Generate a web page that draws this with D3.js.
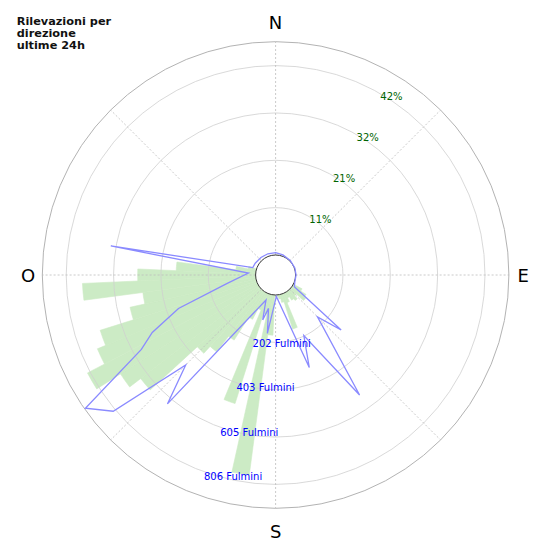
<!DOCTYPE html>
<html>
<head>
<meta charset="utf-8">
<script src="https://cdn.jsdelivr.net/npm/d3@7"></script>
<style>
  body { margin: 0; background: #fff; }
  text { font-family: 'DejaVu Sans', sans-serif; }
</style>
</head>
<body>
<div id="chart"></div>
<script>
// green bars: 5 degree sectors, percent
const barAngles = [120,125,130,135,140,145,150,155,160,165,170,175,180,185,190,195,200,205,210,215,220,225,230,235,240,245,250,255,260,265,270,275,280,285];
const barPct    = [2.2,3.6,4.0,1.8,2.7,2.2,1.3,2.2,8.2,1.8,0.9,0.4,0.4,9.0,40.7,4.5,25.7,4.0,6.7,12.8,17.2,19.3,33.6,36.7,43.0,38.7,36.7,28.9,25.5,38.8,26.4,17.8,4.5,1.8];

// blue line: lightning counts
const lineAngles  = [0,20,45,70,90,110,122,130,135,145,155,160,178,188,192,196,201,220,225,230,235,241,245,251,260,274,280,288,300,320,340];
const lineFulmini = [10,6,3,2,2,2,9,279,167,538,199,334,6,166,60,114,29,631,456,817,903,568,494,352,126,31,627,17,15,12,11];

// radial ticks
const pctTicks = [10.6,21.2,31.8,42.4];
const fulTicks = [201.5,403,604.5,806];

const compass = ['N','E','S','O'];
const compassAngles = [0,90,180,270];
const titleLines = ['Rilevazioni per','direzione','ultime 24h'];

const width = 550, height = 550;
const cx = 275.6, cy = 275;
const hole = 20, outer = 233.3;
const fulMax = 907.7;
const pctMax = fulMax * 10.6 / 201.5;

const rFul = d3.scaleLinear().domain([0, fulMax]).range([hole, outer]);
const rPct = d3.scaleLinear().domain([0, pctMax]).range([hole, outer]);
const rad = d => d * Math.PI / 180;

const svg = d3.select('#chart')
  .append('svg')
  .attr('width', width)
  .attr('height', height);

const g = svg.append('g')
  .attr('transform', `translate(${cx},${cy})`);

// bars
const arc = d3.arc()
  .innerRadius(hole)
  .outerRadius(d => rPct(d.v))
  .startAngle(d => rad(d.a - 2.5))
  .endAngle(d => rad(d.a + 2.5));

g.selectAll('.bar')
  .data(barAngles.map((a, i) => ({a: a, v: barPct[i]})))
  .join('path')
  .attr('class', 'bar')
  .attr('d', arc)
  .attr('fill', '#ccebc5')
  .attr('stroke', '#ccebc5')
  .attr('stroke-width', 0.6)
  .attr('stroke-linejoin', 'miter');

// grid circles
g.selectAll('.ring')
  .data(fulTicks)
  .join('circle')
  .attr('r', d => rFul(d))
  .attr('fill', 'none')
  .attr('stroke', '#cfcfcf')
  .attr('stroke-width', 0.8);

// radial dashed lines
g.selectAll('.spoke')
  .data(d3.range(0, 360, 45))
  .join('line')
  .attr('x1', d => hole * Math.sin(rad(d)))
  .attr('y1', d => -hole * Math.cos(rad(d)))
  .attr('x2', d => outer * Math.sin(rad(d)))
  .attr('y2', d => -outer * Math.cos(rad(d)))
  .attr('stroke', '#bdbdbd')
  .attr('stroke-width', 0.8)
  .attr('stroke-dasharray', '2,2');

// outer spine
g.append('circle')
  .attr('r', outer)
  .attr('fill', 'none')
  .attr('stroke', '#b3b3b3')
  .attr('stroke-width', 1);

// hole
g.append('circle')
  .attr('r', hole)
  .attr('fill', '#fff')
  .attr('stroke', '#333')
  .attr('stroke-width', 1);

// lightning line
const line = d3.lineRadial()
  .angle(d => rad(d.a))
  .radius(d => rFul(d.v))
  .curve(d3.curveLinearClosed);

g.append('path')
  .datum(lineAngles.map((a, i) => ({a: a, v: lineFulmini[i]})))
  .attr('d', line)
  .attr('fill', 'none')
  .attr('stroke', '#8a8aff')
  .attr('stroke-width', 1.3)
  .attr('stroke-linejoin', 'miter');

// percent labels at 30 deg
g.selectAll('.pct')
  .data(pctTicks)
  .join('text')
  .attr('x', d => rPct(d) * Math.sin(rad(30)))
  .attr('y', d => -rPct(d) * Math.cos(rad(30)) + 6.2)
  .attr('font-size', '10px')
  .attr('fill', '#006400')
  .text(d => Math.round(d) + '%');

// fulmini labels at 200 deg
g.selectAll('.ful')
  .data(fulTicks)
  .join('text')
  .attr('x', d => rFul(d) * Math.sin(rad(200)))
  .attr('y', d => -rFul(d) * Math.cos(rad(200)) + 8.4)
  .attr('font-size', '10px')
  .attr('fill', '#0000ff')
  .text(d => Math.round(d) + ' Fulmini');

// compass letters
const labelDist = [253, 247.5, 256, 247.5];
g.selectAll('.dir')
  .data(compass)
  .join('text')
  .attr('x', (d, i) => labelDist[i] * Math.sin(rad(compassAngles[i])))
  .attr('y', (d, i) => -labelDist[i] * Math.cos(rad(compassAngles[i])))
  .attr('text-anchor', 'middle')
  .attr('dominant-baseline', 'central')
  .attr('font-size', '18px')
  .attr('fill', '#000')
  .text(d => d);

// title
svg.append('text')
  .attr('x', 16.7)
  .attr('y', 25)
  .attr('font-size', '11.3px')
  .attr('font-weight', 'bold')
  .attr('fill', '#111')
  .selectAll('tspan')
  .data(titleLines)
  .join('tspan')
  .attr('x', 16.7)
  .attr('dy', (d, i) => i == 0 ? 0 : 12.2)
  .text(d => d);
</script>
</body>
</html>
